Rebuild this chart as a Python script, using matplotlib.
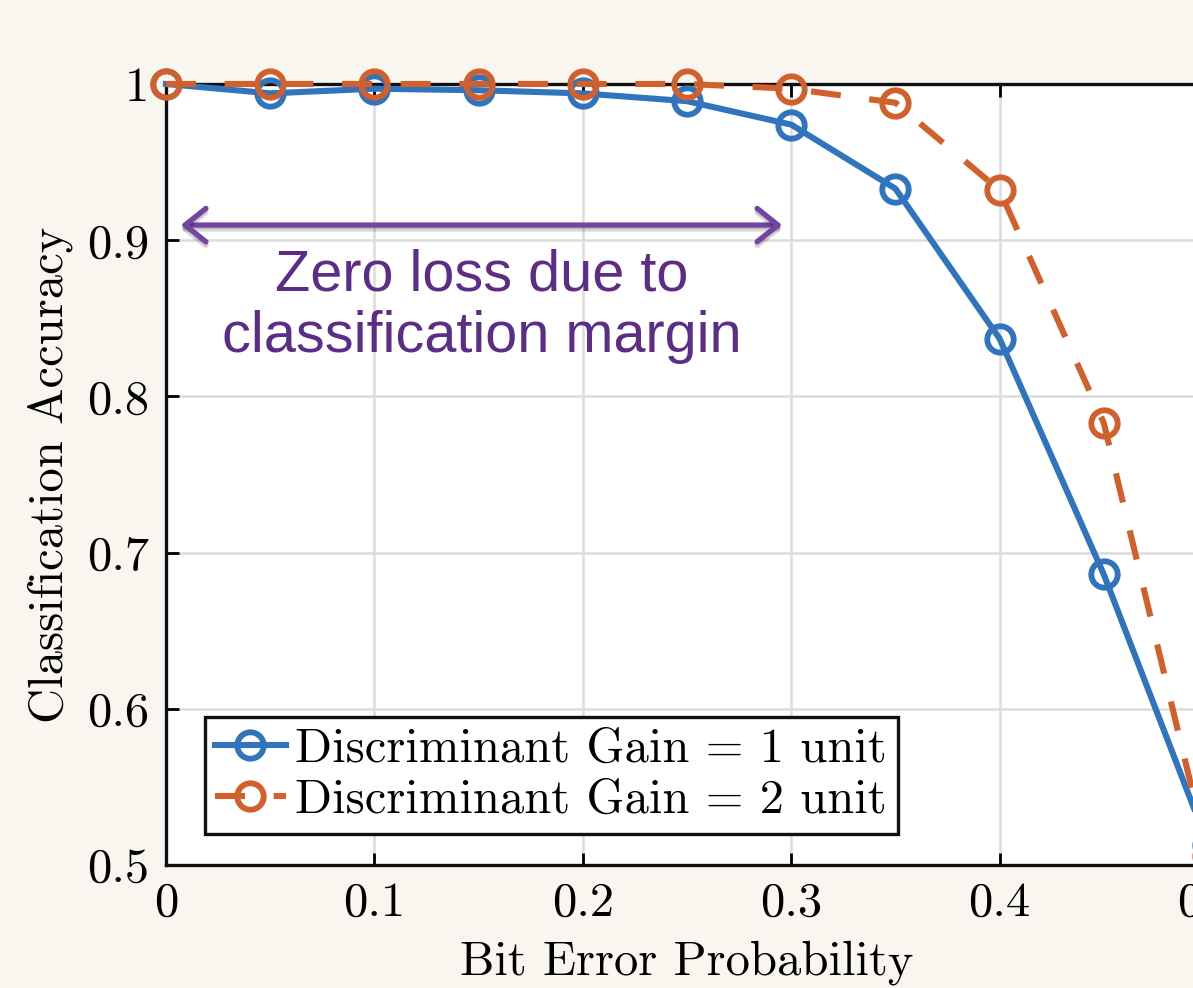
import matplotlib
matplotlib.use("Agg")
import matplotlib.pyplot as plt
from matplotlib.patches import FancyArrowPatch
import matplotlib.patheffects as pe

# Bit error probability sweep
ber = [0.0, 0.05, 0.10, 0.15, 0.20, 0.25, 0.30, 0.35, 0.40, 0.45, 0.50]
# Classification accuracy for two discriminant gains
acc_gain1 = [1.000, 0.994, 0.997, 0.996, 0.994, 0.989, 0.974, 0.933, 0.837, 0.686, 0.513]
acc_gain2 = [1.000, 1.000, 1.000, 1.000, 1.000, 1.000, 0.997, 0.988, 0.932, 0.783, 0.506]

labels = ["Discriminant Gain = 1 unit", "Discriminant Gain = 2 unit"]
xticks = [0.0, 0.1, 0.2, 0.3, 0.4, 0.5]
xtick_labels = ["0", "0.1", "0.2", "0.3", "0.4", "0.5"]
yticks = [0.5, 0.6, 0.7, 0.8, 0.9, 1.0]
ytick_labels = ["0.5", "0.6", "0.7", "0.8", "0.9", "1"]

BLUE = "#2f74bd"
ORANGE = "#d2602c"
PURPLE_ARROW = "#7444a2"
PURPLE_TEXT = "#5c2d86"
PAGE = "#f9f6ef"

plt.rcParams["font.family"] = ["cmr10", "DejaVu Serif"]
plt.rcParams["axes.formatter.use_mathtext"] = True

W, H = 1193, 988
fig = plt.figure(figsize=(W / 100, H / 100), dpi=100, facecolor=PAGE)
ax = fig.add_axes([166 / W, 1 - 865 / H, (1208 - 166) / W, (865 - 84) / H])
ax.set_facecolor("white")

ax.set_xlim(0, 0.5)
ax.set_ylim(0.5, 1.0)
ax.set_xticks(xticks)
ax.set_xticklabels(xtick_labels)
ax.set_yticks(yticks)
ax.set_yticklabels(ytick_labels)
ax.tick_params(direction="in", length=9, width=2, labelsize=35, pad=12,
               top=True, right=True)
ax.grid(True, color="#dcdcdc", linewidth=1.8)
ax.set_axisbelow(True)
for s in ax.spines.values():
    s.set_linewidth(2.4)
    s.set_color("#111111")

ax.plot(ber, acc_gain1, color=BLUE, lw=4.4, marker="o", ms=19, mew=4.2,
        mfc="none", mec=BLUE, label=labels[0], clip_on=False, zorder=3)
ax.plot(ber, acc_gain2, color=ORANGE, lw=4.4, marker="o", ms=19, mew=4.2,
        mfc="none", mec=ORANGE, label=labels[1], clip_on=False, zorder=4,
        dashes=(4.9, 4.7))

ax.set_xlabel("Bit Error Probability", fontsize=35, labelpad=10)
ax.set_ylabel("Classification Accuracy", fontsize=35, labelpad=10)

leg = ax.legend(loc="lower left", bbox_to_anchor=(0.037, 0.04), fontsize=35,
                frameon=True, fancybox=False, edgecolor="#111111",
                framealpha=1, handlelength=1.45, handletextpad=0.2,
                borderpad=0.22, labelspacing=0.15, borderaxespad=0)
leg.get_frame().set_linewidth(2.4)

# Annotation: double-headed arrow and caption
arrow = FancyArrowPatch((0.0058, 0.9097), (0.297, 0.9097),
                        arrowstyle="<->,head_length=15,head_width=12",
                        mutation_scale=1, color=PURPLE_ARROW, lw=3.8,
                        zorder=5,
                        path_effects=[pe.SimpleLineShadow(offset=(0, -3), alpha=0.12,
                                                          shadow_color="black"),
                                      pe.SimpleLineShadow(offset=(0, -1.5), alpha=0.12,
                                                          shadow_color="black"),
                                      pe.Normal()])
ax.add_patch(arrow)
ax.text(0.1515, 0.8575, "Zero loss due to\nclassification margin",
        ha="center", va="center", fontsize=41.5, color=PURPLE_TEXT,
        family=["Liberation Sans"], linespacing=1.18, zorder=5)

fig.savefig("out.png", dpi=100, facecolor=PAGE)
